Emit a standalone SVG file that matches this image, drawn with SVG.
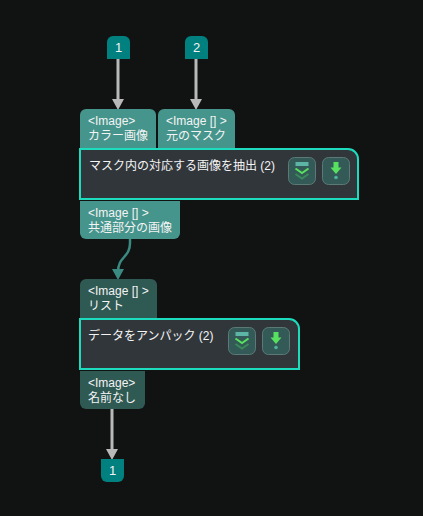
<svg xmlns="http://www.w3.org/2000/svg" width="423" height="516" viewBox="0 0 423 516">
<style>
text{font-family:"Liberation Sans","Noto Sans CJK JP",sans-serif;font-size:12px;fill:#f4f4f4}
.tag{fill:#00807f}
.tagt{font-size:13px;text-anchor:middle}
.pa{fill:#46958c}
.pb{fill:#2f5953}
.node{fill:#31363b;stroke:#1cdcbd;stroke-width:2}
.btn{fill:#335a57;stroke:#5b7a77;stroke-width:1}
.wire{fill:none;stroke:#b9b9b9;stroke-width:3}
.head{fill:#b9b9b9}
.wire2{fill:none;stroke:#3b8a82;stroke-width:2.5}
.head2{fill:#3b8a82}
.ic1{fill:#5cb5a5}
.ic2{fill:none;stroke:#58e060;stroke-width:2}
.ic3{fill:none;stroke:#3a8a5a;stroke-width:2}
.ic4{fill:#58e060}
.ic5{fill:#4fb39b}
</style>
<defs>
<g id="btns">
<rect class="btn" x="0.5" y="0.5" width="27" height="27" rx="6"/>
<rect class="ic1" x="7.500" y="5" width="13" height="4"/>
<path class="ic2" d="M7.500 11.500 14 16 20.500 11.500"/>
<path class="ic3" d="M7.500 17 14 21.500 20.500 17"/>
<rect class="btn" x="34.500" y="0.500" width="27" height="27" rx="6"/>
<path class="ic4" d="M45.500 5h5v5.500h3l-5.500 6.500-5.500-6.500h3z"/>
<circle class="ic5" cx="48" cy="20.500" r="1.800"/>
</g>
</defs>
<rect width="423" height="516" fill="#111212"/>
<g id="connectors">
<path class="wire" d="M118 59V100"/><path class="head" d="M112 99H124L118 110z"/>
<path class="wire" d="M196 59V100"/><path class="head" d="M190 99H202L196 110z"/>
<path class="wire2" d="M130 239V243C130 258 118 256 118 272"/><path class="head2" d="M112 269H124L118 280z"/>
<path class="wire" d="M112 409V450"/><path class="head" d="M106 449H118L112 460z"/>
</g>
<g id="input-1"><path class="tag" d="M107 59V42a6 6 0 0 1 6-6h11a6 6 0 0 1 6 6V59z"/><text class="tagt" x="118.500" y="52">1</text></g>
<g id="input-2"><path class="tag" d="M185 59V42a6 6 0 0 1 6-6h11a6 6 0 0 1 6 6V59z"/><text class="tagt" x="196.500" y="52">2</text></g>
<g id="node-extract">
<path class="pa" d="M80 149V115a6 6 0 0 1 6-6h64a6 6 0 0 1 6 6V149z"/>
<text x="88" y="125">&lt;Image&gt;</text><text x="88" y="140">カラー画像</text>
<path class="pa" d="M158 149V115a6 6 0 0 1 6-6h65a6 6 0 0 1 6 6V149z"/>
<text x="166" y="125">&lt;Image [] &gt;</text><text x="166" y="140">元のマスク</text>
<path class="node" d="M80 149H348a10 10 0 0 1 10 10V199H80z"/>
<text x="89" y="170">マスク内の対応する画像を抽出 (2)</text>
<use href="#btns" x="288" y="157"/>
<path class="pa" d="M80 201H180V233a6 6 0 0 1-6 6H86a6 6 0 0 1-6-6z"/>
<text x="88" y="217">&lt;Image [] &gt;</text><text x="88" y="232">共通部分の画像</text>
</g>
<g id="node-unpack">
<path class="pb" d="M80 319V285a6 6 0 0 1 6-6h65a6 6 0 0 1 6 6V319z"/>
<text x="88" y="295">&lt;Image [] &gt;</text><text x="88" y="310">リスト</text>
<path class="node" d="M80 319H289a10 10 0 0 1 10 10V369H80z"/>
<text x="88" y="340">データをアンパック (2)</text>
<use href="#btns" x="228" y="327"/>
<path class="pb" d="M80 371H145V403a6 6 0 0 1-6 6H86a6 6 0 0 1-6-6z"/>
<text x="88" y="387">&lt;Image&gt;</text><text x="88" y="402">名前なし</text>
</g>
<g id="output-1"><path class="tag" d="M101 459H124V476a6 6 0 0 1-6 6H107a6 6 0 0 1-6-6z"/><text class="tagt" x="112.500" y="475">1</text></g>
</svg>
